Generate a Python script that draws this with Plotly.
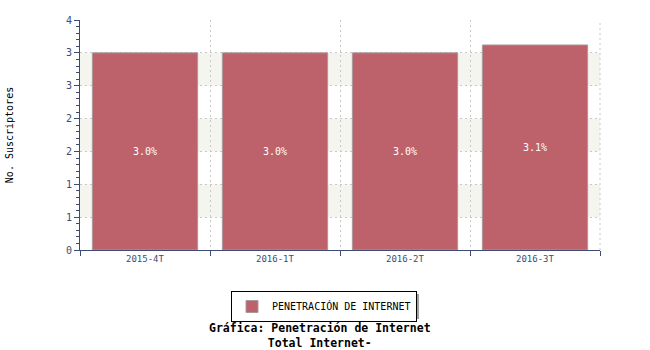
import plotly.graph_objects as go

categories = ["2015-4T", "2016-1T", "2016-2T", "2016-3T"]
values = [3.0, 3.0, 3.0, 3.12]
bar_labels = ["3.0%", "3.0%", "3.0%", "3.1%"]
series_name = "PENETRACIÓN DE INTERNET"
y_tickvals = [0, 0.5, 1.0, 1.5, 2.0, 2.5, 3.0, 3.5]
y_ticktext = ["0", "1", "1", "2", "2", "3", "3", "4"]
band_ranges = [(0.5, 1.0), (1.5, 2.0), (2.5, 3.0)]

MONO = "DejaVu Sans Mono"
AXIS = "#3f4b72"
BAR = "#bd616b"
GRID = "#c8c8c8"

L, R, T, B = 80, 50, 20, 100
W, H = 650, 350
PW, PH = W - L - R, H - T - B

def px2paper_x(px):
    return (px - L) / PW

def px2paper_y(py):
    return (H - B - py) / PH

fig = go.Figure()
fig.add_trace(go.Bar(
    x=categories, y=values, name=series_name,
    text=bar_labels, textposition="inside", insidetextanchor="middle",
    textfont=dict(family=MONO, size=10, color="white"),
    marker=dict(color=BAR, line=dict(color="#a89a9c", width=1)),
    showlegend=True,
))

shapes = []
for a, b in band_ranges:
    shapes.append(dict(type="rect", xref="paper", yref="y", x0=0, x1=1, y0=a, y1=b,
                       fillcolor="#f5f5f0", line=dict(width=0), layer="below"))
# right border dotted line of plot
shapes.append(dict(type="line", xref="paper", yref="paper", x0=1, x1=1, y0=0, y1=1,
                   line=dict(color=GRID, width=1, dash="2px,3px"), layer="below"))
# legend shadow
shapes.append(dict(type="rect", xref="paper", yref="paper",
                   x0=px2paper_x(234), x1=px2paper_x(419),
                   y0=px2paper_y(319), y1=px2paper_y(294),
                   fillcolor="#a0a0a0", line=dict(width=0), layer="above"))

fig.update_layout(
    width=W, height=H,
    margin=dict(l=L, r=R, t=T, b=B, pad=0),
    paper_bgcolor="white", plot_bgcolor="white",
    bargap=0.19,
    font=dict(family=MONO, size=10, color="#333"),
    shapes=shapes,
    showlegend=True,
    legend=dict(orientation="h", x=px2paper_x(324), xanchor="center",
                y=px2paper_y(291), yanchor="top",
                bgcolor="white", bordercolor="black", borderwidth=1,
                font=dict(family=MONO, size=10, color="black"),
                itemwidth=30),
    xaxis=dict(
        type="category", tickson="boundaries", automargin=False,
        showline=True, linecolor=AXIS, linewidth=1,
        ticks="outside", ticklen=5, tickcolor=AXIS,
        showgrid=True, gridcolor=GRID, griddash="2px,3px", gridwidth=1,
        tickfont=dict(family=MONO, size=9, color=AXIS),
        range=[-0.5, 3.5],
    ),
    yaxis=dict(
        range=[0, 3.5], tickvals=y_tickvals, ticktext=y_ticktext, automargin=False,
        showline=True, linecolor=AXIS, linewidth=1,
        ticks="outside", ticklen=5, tickcolor=AXIS,
        minor=dict(dtick=0.1, ticks="outside", ticklen=3, tickcolor=AXIS, showgrid=False),
        showgrid=True, gridcolor=GRID, griddash="2px,3px", gridwidth=1,
        zeroline=False,
        tickfont=dict(family=MONO, size=10, color=AXIS),
        title=dict(text="No. Suscriptores", font=dict(family=MONO, size=10, color="black"), standoff=50),
    ),
    annotations=[
        dict(text="<b>Gráfica: Penetración de Internet</b><br><b>Total Internet-</b>",
             xref="paper", yref="paper", x=px2paper_x(320), y=px2paper_y(319),
             xanchor="center", yanchor="top", showarrow=False,
             font=dict(family=MONO, size=11.5, color="black")),
    ],
)

fig.write_html("out.html")
